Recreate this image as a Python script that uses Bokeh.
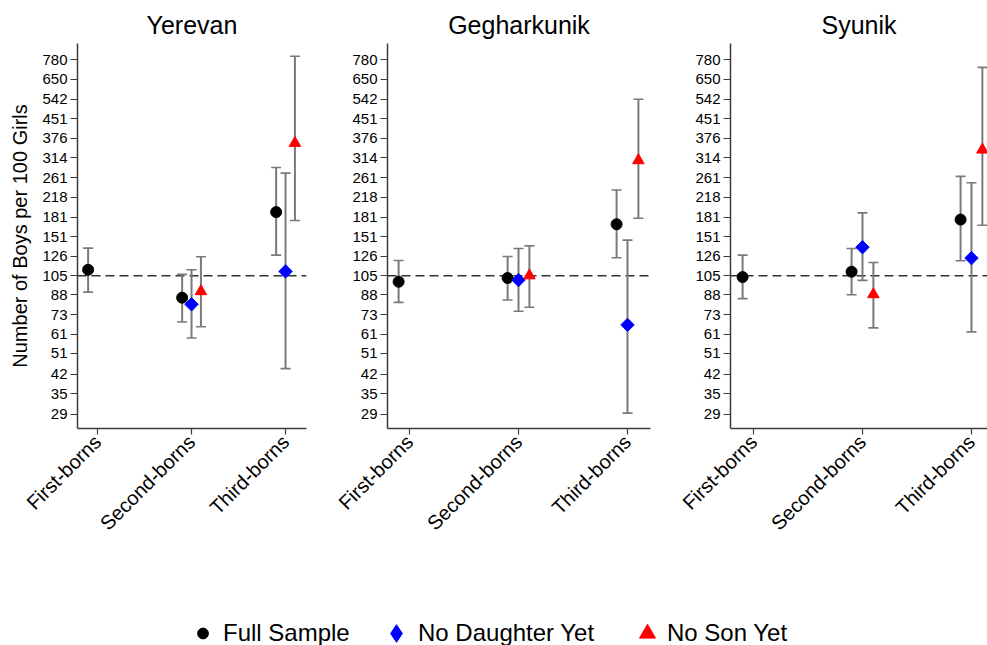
import numpy as np
from bokeh.plotting import figure
from bokeh.models import (Range1d, FixedTicker, NumeralTickFormatter, Whisker, TeeHead,
                          ColumnDataSource, Span, Legend, LegendItem)
from bokeh.layouts import row, column
from bokeh.embed import file_html
from bokeh.resources import INLINE

nan = float("nan")

# ---------------- data ----------------
categories = ["First-borns", "Second-borns", "Third-borns"]
category_pos = [1, 2, 3]
regions = ["Yerevan", "Gegharkunik", "Syunik"]
series_names = ["Full Sample", "No Daughter Yet", "No Son Yet"]
y_tick_labels = [29, 35, 42, 51, 61, 73, 88, 105, 126, 151, 181, 218, 261, 314,
                 376, 451, 542, 650, 780]
natural_ratio = 105

# Yerevan
yerevan_full = [111, 85.6, 189.7]
yerevan_full_lo = [90.2, 68.3, 127.2]
yerevan_full_hi = [135.7, 106.3, 287]
yerevan_nodau = [nan, 80.5, 109.3]
yerevan_nodau_lo = [nan, 58.9, 44.3]
yerevan_nodau_hi = [nan, 111, 272.4]
yerevan_noson = [nan, 90.8, 360]
yerevan_noson_lo = [nan, 65.4, 175.5]
yerevan_noson_hi = [nan, 125.3, 807]

# Gegharkunik
gegh_full = [99.3, 102.8, 169.4]
gegh_full_lo = [82, 83.8, 124]
gegh_full_hi = [121, 125.6, 232.8]
gegh_nodau = [nan, 100.9, 66.5]
gegh_nodau_lo = [nan, 75.5, 29.3]
gegh_nodau_hi = [nan, 135.2, 146.1]
gegh_noson = [nan, 105.2, 306.5]
gegh_noson_lo = [nan, 78.3, 179.1]
gegh_noson_hi = [nan, 138.6, 540.9]

# Syunik
syunik_full = [103.7, 109, 176.9]
syunik_full_lo = [84.9, 88, 120.6]
syunik_full_hi = [127.2, 135.2, 264.3]
syunik_nodau = [nan, 136.9, 123.7]
syunik_nodau_lo = [nan, 100.6, 62.3]
syunik_nodau_hi = [nan, 188.2, 249.2]
syunik_noson = [nan, 88.3, 338.3]
syunik_noson_lo = [nan, 64.7, 167.9]
syunik_noson_hi = [nan, 118.8, 727.4]

region_data = {
    "Yerevan": [(yerevan_full, yerevan_full_lo, yerevan_full_hi),
                (yerevan_nodau, yerevan_nodau_lo, yerevan_nodau_hi),
                (yerevan_noson, yerevan_noson_lo, yerevan_noson_hi)],
    "Gegharkunik": [(gegh_full, gegh_full_lo, gegh_full_hi),
                    (gegh_nodau, gegh_nodau_lo, gegh_nodau_hi),
                    (gegh_noson, gegh_noson_lo, gegh_noson_hi)],
    "Syunik": [(syunik_full, syunik_full_lo, syunik_full_hi),
               (syunik_nodau, syunik_nodau_lo, syunik_nodau_hi),
               (syunik_noson, syunik_noson_lo, syunik_noson_hi)],
}

# ---------------- styling ----------------
FONT = "Liberation Sans"
GRAY = "#7a7a7a"
AXIS = "#3c3c3c"
PANEL_H = 580
FRAME_TOP = 43
FRAME_BOTTOM = 428

series_style = [
    dict(offset=-0.1, marker="circle", legend_marker="circle", color="black", size=11, angle=0.0),
    dict(offset=0.0, marker="square", legend_marker="diamond", color="#0000ff", size=9.5, angle=np.pi / 4),
    dict(offset=0.1, marker="triangle", legend_marker="triangle", color="#ff0000", size=11.5, angle=0.0),
]

panel_layout = {
    "Yerevan": dict(width=330, left=77, right=24, xr=(0.787, 3.223), ylabel=True),
    "Gegharkunik": dict(width=330, left=57, right=10, xr=(0.798, 3.211), ylabel=False),
    "Syunik": dict(width=327, left=70, right=0, xr=(0.789, 3.147), ylabel=False),
}

first_panel_sources = []


def make_panel(region):
    lay = panel_layout[region]
    p = figure(width=lay["width"], height=PANEL_H,
               x_range=Range1d(*lay["xr"]), y_range=Range1d(25.4, 908),
               y_axis_type="log", output_backend="svg", toolbar_location=None,
               min_border_left=lay["left"], min_border_right=lay["right"],
               min_border_top=FRAME_TOP, min_border_bottom=PANEL_H - FRAME_BOTTOM)
    p.title.text = region
    p.title.align = "center"
    p.title.text_font = FONT
    p.title.text_font_size = "25px"
    p.title.text_font_style = "normal"
    p.title.text_color = "black"
    p.title.standoff = 9
    p.grid.visible = False
    p.outline_line_color = None
    p.background_fill_color = "white"
    p.border_fill_color = "white"

    # axes
    p.yaxis.ticker = FixedTicker(ticks=y_tick_labels, minor_ticks=[])
    p.yaxis.formatter = NumeralTickFormatter(format="0")
    p.xaxis.ticker = FixedTicker(ticks=category_pos, minor_ticks=[])
    p.xaxis.major_label_overrides = {c: lab for c, lab in zip(category_pos, categories)}
    p.xaxis.major_label_orientation = np.pi / 4
    for ax in (p.xaxis[0], p.yaxis[0]):
        ax.axis_line_color = AXIS
        ax.axis_line_width = 1.5
        ax.major_tick_line_color = AXIS
        ax.major_tick_line_width = 1.2
        ax.major_tick_in = 0
        ax.minor_tick_line_color = None
        ax.major_label_text_font = FONT
        ax.major_label_text_color = "black"
    p.yaxis.major_tick_out = 7
    p.xaxis.major_tick_out = 6
    p.yaxis.major_label_text_font_size = "15px"
    p.yaxis.major_label_standoff = 3
    p.xaxis.major_label_text_font_size = "20px"
    p.xaxis.major_label_standoff = 4
    if lay["ylabel"]:
        p.yaxis.axis_label = "Number of Boys per 100 Girls"
        p.yaxis.axis_label_text_font = FONT
        p.yaxis.axis_label_text_font_size = "20px"
        p.yaxis.axis_label_text_font_style = "normal"
        p.yaxis.axis_label_text_color = "black"
        p.yaxis.axis_label_standoff = 8

    span = Span(location=natural_ratio, dimension="width", line_color="#333333",
                line_dash="9 5", line_width=1.5, level="underlay")
    p.add_layout(span)

    for (est, lo, hi), st in zip(region_data[region], series_style):
        est_a = np.array(est, dtype=float)
        keep = ~np.isnan(est_a)
        xs = np.array(category_pos, dtype=float)[keep] + st["offset"]
        src = ColumnDataSource(dict(x=xs, est=est_a[keep],
                                    lo=np.array(lo, dtype=float)[keep],
                                    hi=np.array(hi, dtype=float)[keep]))
        if region == regions[0]:
            first_panel_sources.append(src)
        w = Whisker(source=src, base="x", upper="hi", lower="lo",
                    line_color=GRAY, line_width=2, level="underlay",
                    upper_head=TeeHead(size=10, line_color=GRAY, line_width=1.6),
                    lower_head=TeeHead(size=10, line_color=GRAY, line_width=1.6))
        p.add_layout(w)
        p.scatter("x", "est", source=src, marker=st["marker"], size=st["size"],
                  angle=st["angle"], fill_color=st["color"], line_color=st["color"])
    return p


panels = [make_panel(r) for r in regions]

# ---------------- legend strip ----------------
# The legend renderers reuse the series data; the strip's y range (0..1) lies far
# below every ratio value, so only the legend entries are visible here.
LEG_H = 645 - PANEL_H
lf = figure(width=987, height=LEG_H, x_range=Range1d(0, 1), y_range=Range1d(0, 1),
            output_backend="svg", toolbar_location=None,
            x_axis_location=None, y_axis_location=None,
            min_border_left=0, min_border_right=0, min_border_top=0, min_border_bottom=0)
lf.grid.visible = False
lf.outline_line_color = None
lf.title.visible = False

legend_geom = [
    dict(gw=27, gh=30, vx=189, standoff=7),
    dict(gw=44, gh=44, vx=374, standoff=0),
    dict(gw=40, gh=40, vx=627, standoff=0),
]
for name, st, g, src in zip(series_names, series_style, legend_geom, first_panel_sources):
    r = lf.scatter("x", "est", source=src, marker=st["legend_marker"], size=st["size"],
                   fill_color=st["color"], line_color=st["color"])
    leg = Legend(items=[LegendItem(label=name, renderers=[r])],
                 location=(g["vx"], 12 - g["gh"] // 2), orientation="horizontal",
                 glyph_width=g["gw"], glyph_height=g["gh"], label_standoff=g["standoff"],
                 padding=0, margin=0, spacing=0, border_line_color=None,
                 background_fill_alpha=0, label_text_font=FONT,
                 label_text_font_size="24px", label_text_color="black")
    lf.add_layout(leg, "center")

layout = column(row(*panels), lf)

open("out.html", "w").write(file_html(layout, INLINE))
